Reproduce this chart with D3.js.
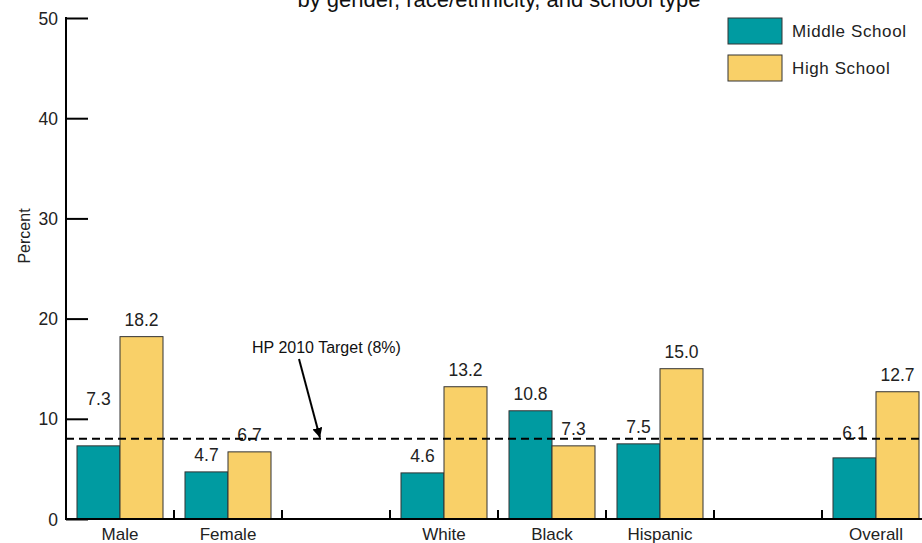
<!DOCTYPE html>
<html><head><meta charset="utf-8">
<script src="https://cdn.jsdelivr.net/npm/d3@7"></script>
<style>
html,body{margin:0;padding:0;background:#fff;}
svg{display:block;font-family:"Liberation Sans",Arial,sans-serif;}
</style></head>
<body>
<svg id="c" width="922" height="543"></svg>
<script>
const categories = ["Male","Female","","White","Black","Hispanic"," ","Overall"];
const seriesNames = ["Middle School","High School"];
const middleSchool = [7.3,4.7,null,4.6,10.8,7.5,null,6.1];
const highSchool = [18.2,6.7,null,13.2,7.3,15.0,null,12.7];
const yTicks = [0,10,20,30,40,50];
const targetValue = 8;
const targetLabel = "HP 2010 Target (8%)";
const titleText = "by gender, race/ethnicity, and school type";
const yLabel = "Percent";
const colors = ["#009ba1","#f9d068"];

const svg = d3.select("#c");
const x0 = d3.scaleBand().domain(categories).range([66,930]).paddingInner(0.2037).paddingOuter(0.10185);
const x1 = d3.scaleBand().domain(seriesNames).range([0,x0.bandwidth()]);
const y = d3.scaleLinear().domain([0,50]).range([519,18]);

// title (partially clipped at the top, as in the reference)
svg.append("text").attr("x",499).attr("y",7).attr("text-anchor","middle")
  .attr("font-size",22).attr("fill","#111").text(titleText);

// bars
const data = categories.map((c,i)=>({c, vals:[middleSchool[i],highSchool[i]]}));
const g = svg.append("g");
data.forEach(d=>{
  d.vals.forEach((v,j)=>{
    if(v==null) return;
    g.append("rect").attr("x",x0(d.c)+x1(seriesNames[j])).attr("y",y(v))
      .attr("width",x1.bandwidth()).attr("height",y(0)-y(v))
      .attr("fill",colors[j]).attr("stroke","#333").attr("stroke-width",1);
  });
});

// value labels
const extra = {"Male|0":30,"Overall|0":8};
data.forEach(d=>{
  d.vals.forEach((v,j)=>{
    if(v==null) return;
    const off = 11 + (extra[d.c+"|"+j]||0);
    g.append("text").attr("x",x0(d.c)+x1(seriesNames[j])+x1.bandwidth()/2)
      .attr("y",y(v)-off).attr("text-anchor","middle").attr("font-size",17.5)
      .attr("fill","#222").text(v.toFixed(1));
  });
});

// target line
svg.append("line").attr("x1",66).attr("x2",922).attr("y1",y(targetValue)).attr("y2",y(targetValue))
  .attr("stroke","#000").attr("stroke-width",2).attr("stroke-dasharray","8,5");

// annotation
svg.append("text").attr("x",252).attr("y",353).attr("font-size",16).attr("fill","#111").text(targetLabel);
svg.append("defs").append("marker").attr("id","ah").attr("viewBox","0 0 10 10")
  .attr("refX",10).attr("refY",5).attr("markerWidth",5).attr("markerHeight",5)
  .attr("orient","auto").attr("markerUnits","strokeWidth")
  .append("path").attr("d","M0,0 L10,5 L0,10 Z").attr("fill","#000");
svg.append("line").attr("x1",299).attr("y1",359).attr("x2",320).attr("y2",y(targetValue)-1)
  .attr("stroke","#000").attr("stroke-width",2).attr("marker-end","url(#ah)");

// y axis
const ya = svg.append("g").attr("transform","translate(66,0)")
  .call(d3.axisLeft(y).tickValues(yTicks).tickSize(-22).tickPadding(8).tickFormat(d3.format("d")));
ya.select(".domain").remove();
ya.selectAll(".tick line").attr("stroke","#000").attr("stroke-width",2);
ya.selectAll(".tick text").attr("font-size",17.5).attr("fill","#222").attr("font-family","Liberation Sans, Arial, sans-serif").attr("dy","0.35em");
svg.append("line").attr("x1",66).attr("x2",66).attr("y1",y(50)-1).attr("y2",y(0)+1).attr("stroke","#000").attr("stroke-width",2);

// x axis
svg.append("line").attr("x1",65).attr("x2",922).attr("y1",y(0)).attr("y2",y(0)).attr("stroke","#000").attr("stroke-width",2);
categories.slice(1).forEach(c=>{
  const xb = x0(c) - x0.step()*x0.paddingInner()/2;
  svg.append("line").attr("x1",xb).attr("x2",xb).attr("y1",y(0)).attr("y2",y(0)-9).attr("stroke","#000").attr("stroke-width",2);
});
categories.forEach(c=>{
  if(!c.trim()) return;
  svg.append("text").attr("x",x0(c)+x0.bandwidth()/2).attr("y",540).attr("text-anchor","middle")
    .attr("font-size",17).attr("fill","#222").text(c);
});

// y label
svg.append("text").attr("transform","translate(30,236) rotate(-90)").attr("text-anchor","middle")
  .attr("font-size",16).attr("fill","#222").text(yLabel);

// legend
const lg = svg.append("g");
seriesNames.forEach((s,i)=>{
  lg.append("rect").attr("x",728).attr("y",18+i*37).attr("width",54).attr("height",26)
    .attr("fill",colors[i]).attr("stroke","#333").attr("stroke-width",1);
  lg.append("text").attr("x",792).attr("y",31+i*37).attr("dy","0.35em").attr("font-size",17)
    .attr("letter-spacing","0.6").attr("fill","#222").text(s);
});
</script>
</body></html>
